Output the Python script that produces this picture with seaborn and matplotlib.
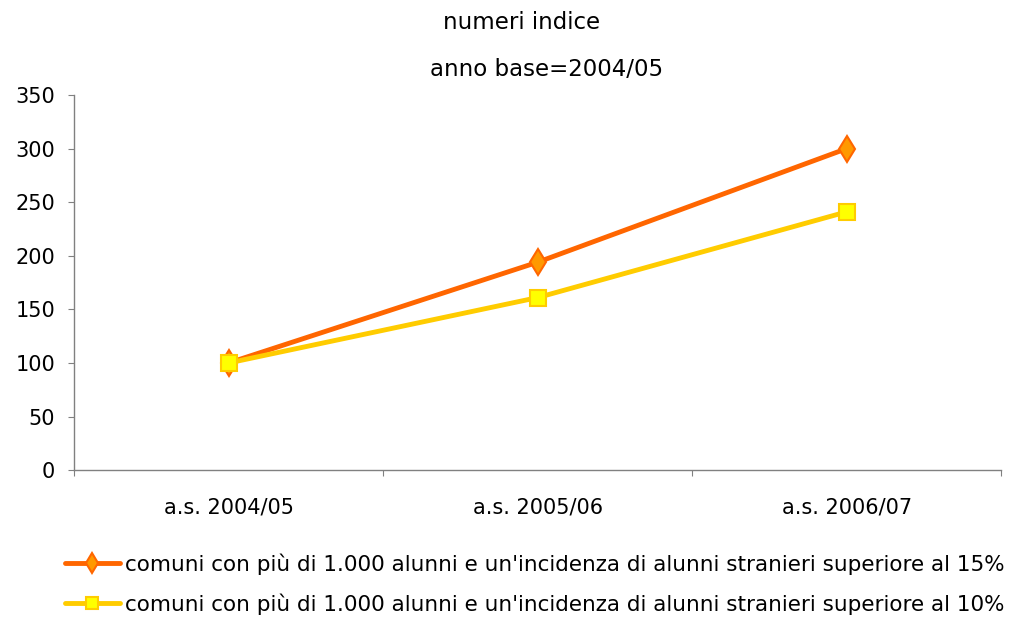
import numpy as np
import seaborn as sns
import matplotlib.pyplot as plt
from matplotlib.ticker import FixedLocator, NullFormatter

sns.set_style("white")
plt.rcParams["font.family"] = ["DejaVu Sans"]
plt.rcParams["text.color"] = "black"
plt.rcParams["xtick.color"] = "black"
plt.rcParams["ytick.color"] = "black"

anni = ["a.s. 2004/05", "a.s. 2005/06", "a.s. 2006/07"]
oltre_15 = [100, 194, 300]
oltre_10 = [100, 161, 241]
label_15 = "comuni con più di 1.000 alunni e un'incidenza di alunni stranieri superiore al 15%"
label_10 = "comuni con più di 1.000 alunni e un'incidenza di alunni stranieri superiore al 10%"

pos = np.arange(len(anni))

fig = plt.figure(figsize=(10.1, 6.17), dpi=100)
ax = fig.add_axes([0.0733, 0.238, 0.918, 0.608])

sns.lineplot(x=pos, y=oltre_15, ax=ax, color="#FF6600", lw=3.5,
             marker="d", markersize=13, markerfacecolor="#FF9900",
             markeredgecolor="#FF6600", markeredgewidth=1.5, label=label_15)
sns.lineplot(x=pos, y=oltre_10, ax=ax, color="#FFCC00", lw=3.5,
             marker="s", markersize=12, markerfacecolor="#FFFF00",
             markeredgecolor="#FFCC00", markeredgewidth=1.5, label=label_10)

ax.set_xlim(-0.5, 2.5)
ax.set_ylim(0, 350)
ax.set_yticks(range(0, 351, 50))
ax.xaxis.set_major_locator(FixedLocator([-0.5, 0.5, 1.5, 2.5]))
ax.xaxis.set_major_formatter(NullFormatter())
ax.xaxis.set_minor_locator(FixedLocator(pos))
ax.set_xticklabels(anni, minor=True)
ax.tick_params(axis="x", which="minor", length=0, pad=20, labelsize=15)
ax.tick_params(axis="x", which="major", length=4.5, direction="out", color="#808080")
ax.tick_params(axis="y", length=4.5, direction="out", color="#808080", labelsize=15, pad=9)
ax.tick_params(bottom=True, left=True, which="both")

for s in ["top", "right"]:
    ax.spines[s].set_visible(False)
for s in ["left", "bottom"]:
    ax.spines[s].set_color("#808080")
    ax.spines[s].set_linewidth(1)

fig.text(0.516, 0.964, "numeri indice", ha="center", va="center", fontsize=16.5)
fig.text(0.541, 0.887, "anno base=2004/05", ha="center", va="center", fontsize=16.5)

ax.legend(loc="upper left", bbox_to_anchor=(-0.0097, -0.222), frameon=False,
          fontsize=15.5, handlelength=2.55, handletextpad=0.25, labelspacing=0.85,
          borderaxespad=0, borderpad=0, markerscale=0.75)

fig.savefig("out.png", dpi=100)
